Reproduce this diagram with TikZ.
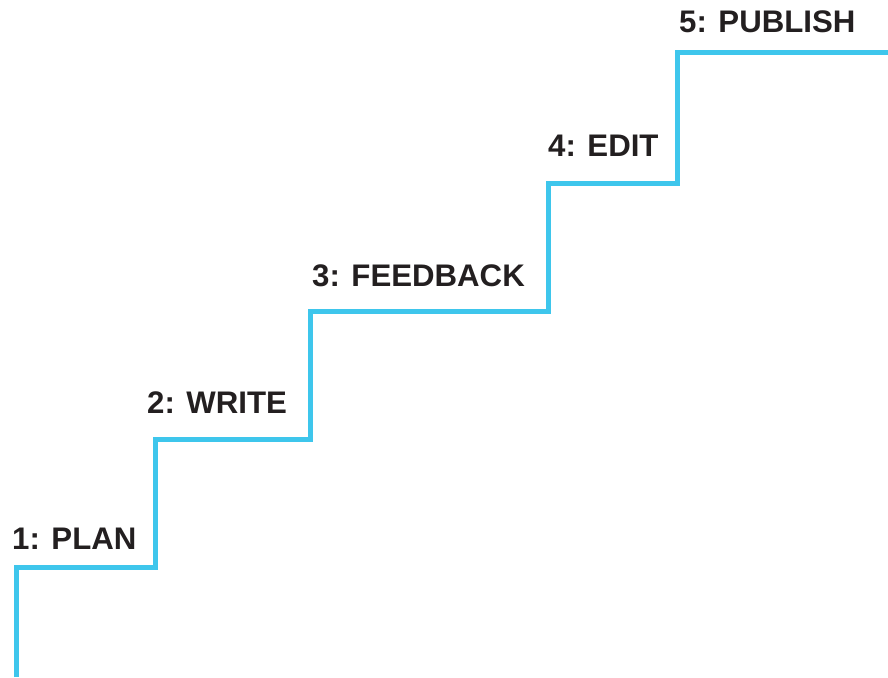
\documentclass[tikz,border=0pt]{standalone}
\usepackage{fontspec}
\setmainfont{Liberation Sans}
\definecolor{stair}{HTML}{3EC6EC}
\definecolor{ink}{HTML}{231F20}
\begin{document}
\begin{tikzpicture}[x=1pt,y=-1pt,every node/.style={anchor=base west,inner sep=0pt,text=ink,font=\fontsize{31.2}{36}\selectfont\bfseries}]
	\useasboundingbox (0,0) rectangle (888,677);
	% corners of the stairs
	\coordinate (s0) at (16,677);
	\coordinate (s1) at (16,567);
	\coordinate (s2) at (155,567);
	\coordinate (s3) at (155,439);
	\coordinate (s4) at (310,439);
	\coordinate (s5) at (310,311);
	\coordinate (s6) at (548,311);
	\coordinate (s7) at (548,183);
	\coordinate (s8) at (677,183);
	\coordinate (s9) at (677,53);
	\coordinate (s10) at (888,53);
	\node (plan) at (12,549){1: PLAN};
	\node (write) at (147,413){2: WRITE};
	\node (feedback) at (312,286){3: FEEDBACK};
	\node (edit) at (548,156){4: EDIT};
	\node (publish) at (679,33){5: PUBLISH};
	\draw[stair,line width=5pt] (s0)--(s1)--(s2)--(s3)--(s4)--(s5)--(s6)--(s7)--(s8)--(s9)--(s10);
	\end{tikzpicture}
\end{document}
